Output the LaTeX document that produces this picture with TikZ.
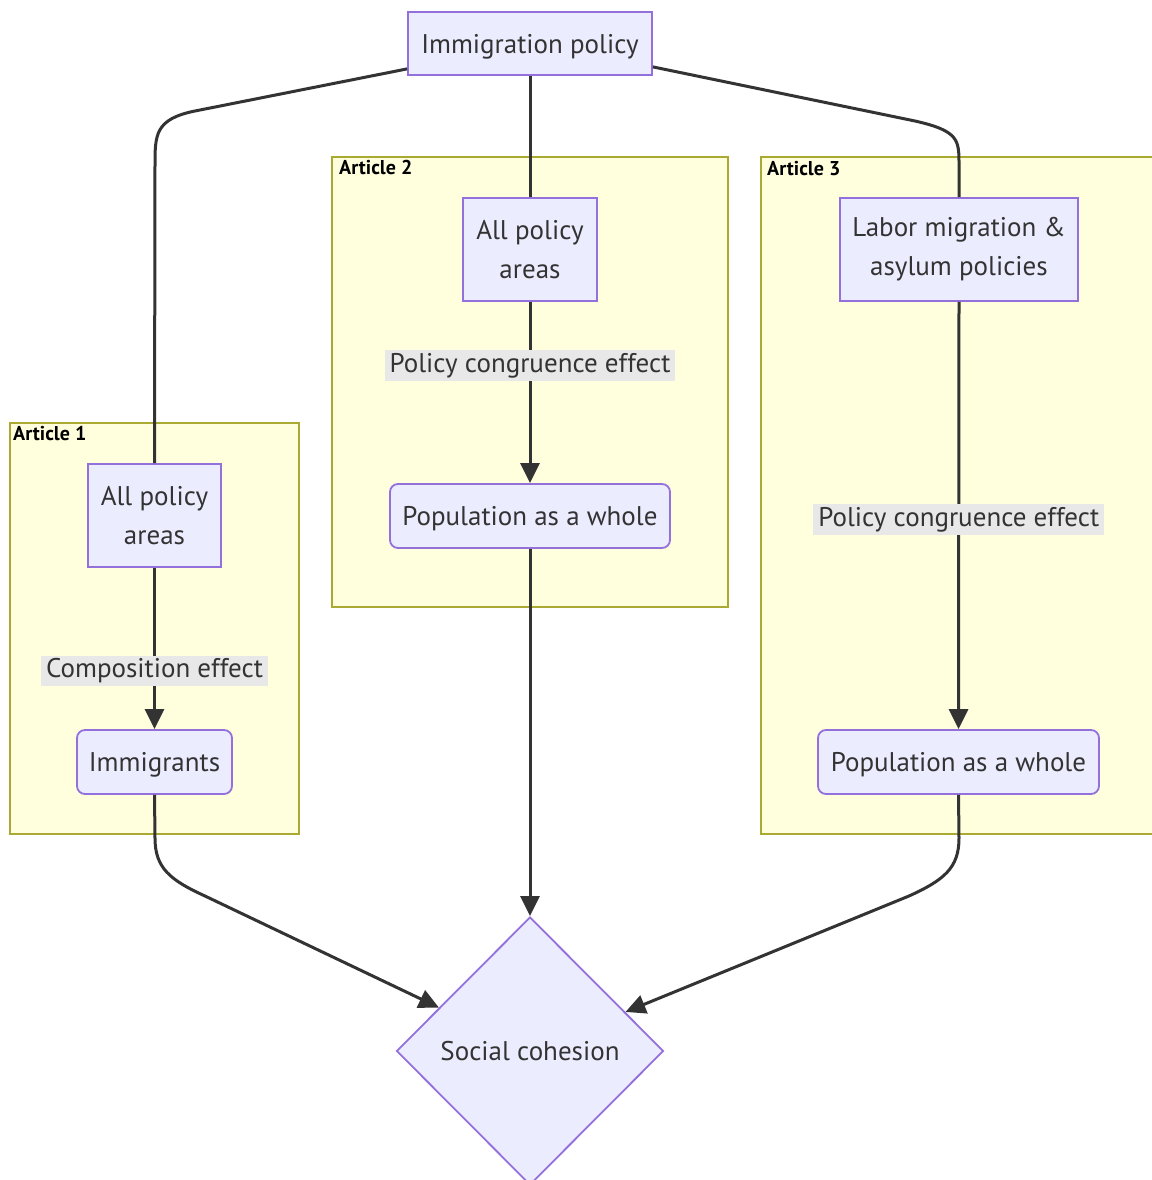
\documentclass[tikz,border=0pt]{standalone}
\usepackage{fontspec}
\setmainfont{PT Sans}
\usetikzlibrary{shapes.geometric,arrows.meta}
\definecolor{nodefill}{HTML}{ECECFF}
\definecolor{nodeline}{HTML}{9370DB}
\definecolor{clusterfill}{HTML}{FFFFDE}
\definecolor{clusterline}{HTML}{AAAA33}
\definecolor{edgecol}{HTML}{333333}
\definecolor{labelbg}{HTML}{E8E8E8}
\definecolor{textcol}{HTML}{333333}
\begin{document}
\begin{tikzpicture}[x=1pt,y=-1pt,
  every node/.style={font=\fontsize{27}{39}\selectfont, text=textcol},
  box/.style={draw=nodeline, fill=nodefill, line width=1.8pt, inner sep=0pt, align=center},
  oneline/.style={text depth=0pt},
  rbox/.style={box, rounded corners=8pt},
  cluster/.style={draw=clusterline, fill=clusterfill, line width=1.5pt},
  clabel/.style={font=\bfseries\fontsize{20}{22}\selectfont, anchor=north west, text=black, inner sep=0pt},
  elabel/.style={fill=labelbg, inner xsep=5pt, inner ysep=3pt},
  conn/.style={draw=edgecol, line width=3pt},
  arr/.style={conn, -{Triangle[length=20pt,width=19pt]}},
]
\useasboundingbox[fill=white] (0,0) rectangle (1151,1180);

% clusters
\draw[cluster] (10,423) rectangle (299,834);
\draw[cluster] (332,157) rectangle (728,607);
\draw[cluster] (761,157) rectangle (1165,834);
\node[clabel] (c1) at (13,426) {Article 1};
\node[clabel] (c2) at (339,160) {Article 2};
\node[clabel] (c3) at (767,161) {Article 3};

% nodes
\node[box, oneline, minimum width=244pt, minimum height=63pt] (ip) at (530,43.5) {Immigration policy};
\node[box, minimum width=134pt, minimum height=103pt] (a2all) at (530,249.5) {All policy\\areas};
\node[rbox, oneline, minimum width=280pt, minimum height=64pt] (pop2) at (530,516) {Population as a whole};
\node[box, minimum width=238pt, minimum height=103pt] (lab) at (959,249.5) {Labor migration \&\\asylum policies};
\node[rbox, oneline, minimum width=281pt, minimum height=64pt] (pop3) at (958.5,762) {Population as a whole};
\node[box, minimum width=133pt, minimum height=103pt] (a1all) at (154.5,515.5) {All policy\\areas};
\node[rbox, oneline, minimum width=155pt, minimum height=64pt] (imm) at (154.5,762) {Immigrants};
\node[diamond, oneline, draw=nodeline, fill=nodefill, line width=1.8pt, inner sep=0pt,
      minimum width=267pt, minimum height=268pt] (soc) at (530,1051) {Social cohesion};

% connectors
\draw[conn] ([yshift=7pt]ip.south west) -- (195,111) .. controls (155,119) and (155,135) .. (155,165) -- (a1all.north);
\draw[conn] (ip.south) -- (a2all.north);
\draw[conn] ([yshift=9pt]ip.south east) -- (915,121) .. controls (959,131) and (959,140) .. (959,165) -- (lab.north);

\draw[arr] (a1all.south) -- node[elabel, pos=0.64] (l1) {Composition effect} (imm.north);
\draw[arr] (a2all.south) -- node[elabel, pos=0.35] (l2) {Policy congruence effect} (pop2.north);
\draw[arr] (lab.south) -- node[elabel, pos=0.51] (l3) {Policy congruence effect} (pop3.north);

\draw[arr] (imm.south) -- (155,838) .. controls (155,868) and (170,880) .. (205,896) -- (soc);
\draw[arr] (pop2.south) -- (soc.north);
\draw[arr] (pop3.south) -- (959,838) .. controls (959,868) and (944,880) .. (909,896) -- (soc);
\end{tikzpicture}
\end{document}
